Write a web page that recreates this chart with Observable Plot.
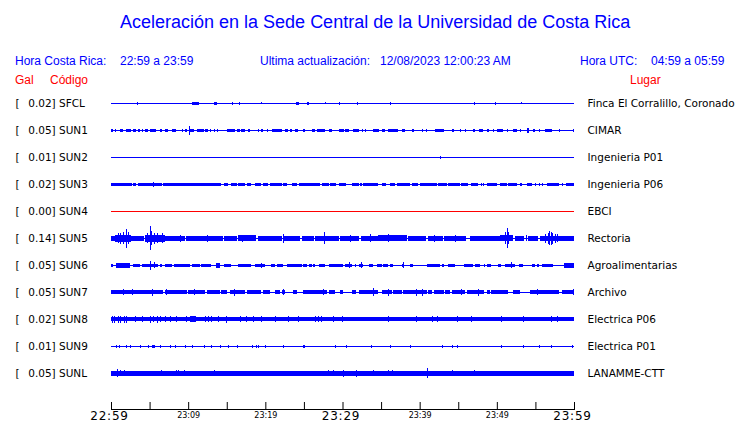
<!DOCTYPE html>
<html><head><meta charset="utf-8">
<script src="https://cdn.jsdelivr.net/npm/d3@7"></script>
<script src="https://cdn.jsdelivr.net/npm/@observablehq/plot@0.6"></script>
<style>
body{margin:0;background:#fff;}
#wrap{position:relative;width:740px;height:423px;overflow:hidden;font-family:"Liberation Sans",Arial,sans-serif;background:#fff;}
.h{position:absolute;white-space:pre;font-size:12px;line-height:12px;color:#0000ff;}
.r{color:#ff0000;}
#title{position:absolute;left:120px;top:12.8px;font-size:18px;line-height:18px;color:#0000ff;white-space:pre;}
#chart{position:absolute;left:0;top:88px;}
</style></head><body>
<div id="wrap">
<div id="title">Aceleración en la Sede Central de la Universidad de Costa Rica</div>
<div class="h" style="left:15px;top:55.3px">Hora Costa Rica:</div>
<div class="h" style="left:120px;top:55.3px">22:59 a 23:59</div>
<div class="h" style="left:260px;top:55.3px">Ultima actualización:</div>
<div class="h" style="left:380px;top:55.3px">12/08/2023 12:00:23 AM</div>
<div class="h" style="left:580px;top:55.3px">Hora UTC:</div>
<div class="h" style="left:651px;top:55.3px">04:59 a 05:59</div>
<div class="h r" style="left:15px;top:74.1px">Gal</div>
<div class="h r" style="left:50px;top:74.1px">Código</div>
<div class="h r" style="left:630px;top:74.1px">Lugar</div>
<div id="chart"></div>
</div>
<script>
// ---- data ----
const codes  = ["SFCL","SUN1","SUN2","SUN3","SUN4","SUN5","SUN6","SUN7","SUN8","SUN9","SUNL"];
const gal    = ["0.02","0.05","0.01","0.02","0.00","0.14","0.05","0.05","0.02","0.01","0.05"];
const places = ["Finca El Corralillo, Coronado","CIMAR","Ingenieria P01","Ingenieria P06","EBCI","Rectoria","Agroalimentarias","Archivo","Electrica P06","Electrica P01","LANAMME-CTT"];
const lineColors = ["#0000ff","#0000ff","#0000ff","#0000ff","#ff0000","#0000ff","#0000ff","#0000ff","#0000ff","#0000ff","#0000ff"];
const windowMinutes = [0, 60];            // 22:59 -> 23:59
const startTime = new Date(2023, 7, 11, 22, 59);
const tickMinutes = [0,5,10,15,20,25,30,35,40,45,50,55,60];
const majorLabelTicks = [0,30,60];
const minorLabelTicks = [10,20,40,50];
// default half-amplitude of noise blocks per station
const blockHalf = [1.7,1.5,1.5,1.7,1.5,2.6,1.8,2,2.1,1.5,2.2];

// blocks: [startMinute, endMinute, halfAmplitude?]   spikes: [minute, halfAmplitude]
const sfclBlocks = [[10.5,11.4],[13.3,13.7,1.5],[24.0,24.4,1.5],[25.4,25.7,1.5]];
const sfclSpikes = [[3.4,1.5],[15.7,1.5],[16.6,1.5],[19.5,1],[27.7,1],[29.6,1.5],[31.9,1.2],[36.1,1.2],[47.0,1.8],[49.8,1.2],[53.1,1]];

const sun1Blocks = [[0,0.2],[0.5,0.7],[1.2,1.6],[1.9,2.6],[2.9,3.2],[3.5,3.8],[4.0,4.2],[4.4,4.8],[5.1,5.8],[6.3,6.6],[7.0,7.4],[7.9,8.1],[8.2,8.4],[9.2,9.3],[9.6,9.8],[10.2,10.8],[11.1,12.0],[12.2,12.6],[12.8,13.0],[13.3,13.5],[13.7,13.9],[15.0,16.1],[16.3,16.7],[16.9,17.4],[17.8,18.0],[19.0,19.2],[19.5,19.7],[20.2,20.4],[20.8,22.1],[22.5,23.0],[23.2,23.4],[23.8,24.2],[24.9,25.1],[26.0,26.4],[26.7,27.7],[28.2,28.7],[29.5,30.2],[30.3,30.9],[31.4,32.1],[32.9,33.0],[33.9,34.7],[35.1,35.5],[35.9,37.2],[37.7,38.1],[39.0,39.3],[40.3,40.4],[42.0,43.1],[44.2,44.5],[45.2,45.4],[46.9,47.2],[47.7,48.2],[48.7,49.0],[50.0,50.8],[51.3,51.5],[52.1,52.6],[53.0,53.1],[53.9,54.2,2.3],[54.7,55.0],[55.4,55.6],[56.2,57.1],[58.0,58.2],[59.9,60]];
const sun1Spikes = [[10.1,4.7],[32.5,1.8],[40.8,1.8],[45.9,1.8],[49.5,1.8]];

const sun2Blocks = [];
const sun2Spikes = [[42.6,1.5]];

const sun3Blocks = [[0,2.7],[2.9,3.3],[3.5,6.6],[6.8,14.3],[14.6,15.2],[15.6,16.3],[16.5,17.4],[17.6,18.2],[18.6,19.5],[19.7,20.4],[20.6,22.1],[22.3,22.8],[23.4,24.1],[24.3,27.1],[27.3,28.2],[28.4,29.2],[29.5,30.5],[31.2,32.1],[32.3,32.5],[32.7,34.6],[35.1,35.7],[36.2,36.8],[37.0,38.8],[39.0,39.8],[40.0,42.2],[42.4,43.5],[43.7,45.2],[45.4,46.3],[46.7,47.5],[48.7,50.0],[50.4,51.3],[51.5,52.6],[53.0,53.2],[53.9,54.5],[56.5,58.0],[58.4,58.6],[59.0,60]];
const sun3Spikes = [[5.4,2.8],[47.9,1.5],[48.2,1.5],[55.0,1.5],[55.4,1.5],[55.8,1.5]];

const sun4Blocks = [];
const sun4Spikes = [];

const sun5Blocks = [[0,0.5,2.3],[0.5,2.6,3.6],[2.6,4.3,2.3],[4.4,7.0,3.6],[7.0,9.6],[9.7,14.5],[14.7,16.3],[16.4,18.8,3],[19.0,22.2,2.2],[22.4,24.5],[24.7,26.3],[26.4,29.6],[29.7,32.2],[32.4,34.6],[34.6,38.3,3],[38.5,40.8,2.2],[41.1,43.0],[43.2,46.0],[46.5,50.4],[50.4,52.1,3],[52.3,53.5,2.2],[54.0,55.3,2.2],[55.6,60]];
const sun5Spikes = [[0.9,5],[1.2,5.5],[1.5,6],[1.9,9.5],[2.2,6],[4.7,5],[5.0,12],[5.2,7],[5.6,5.5],[6.0,5],[6.6,5],[9.0,3.5],[12.5,3.5],[17.0,3.5],[22.3,4.5],[27.6,6],[31.0,3.5],[33.5,4],[35.9,4],[41.8,3.5],[44.6,3.5],[51.0,6],[51.3,10],[51.5,6],[53.8,3],[56.3,4.5],[56.6,5.5],[56.8,7],[57.0,6.5],[57.2,5.5],[57.5,4.5],[57.8,4]];

const sun6Blocks = [[0,0.3],[0.7,2.5,2.3],[2.8,3.8],[4.0,6.1],[6.4,6.6],[7.0,7.9],[8.1,10.2],[10.5,11.5],[11.7,13.0],[13.6,14.1,2.5],[14.6,15.6],[16.4,18.2],[18.7,20.0],[20.7,21.3],[21.5,22.3],[22.8,24.7],[24.9,25.4],[25.6,26.0],[26.2,26.4],[26.9,27.7],[28.3,29.9],[29.7,30.0],[30.3,31.2],[31.6,31.8],[32.1,32.7],[33.4,34.0],[34.5,35.1],[35.3,35.9],[36.2,36.6],[37.7,37.9],[38.8,39.2],[41.0,42.6],[42.9,43.1],[43.7,44.6],[45.7,46.9],[47.2,47.8],[48.3,48.5],[48.7,49.3],[50.2,50.6],[51.1,52.4],[52.9,53.4],[54.6,54.9],[55.2,55.4],[55.8,57.3],[58.7,60,2.3]];
const sun6Spikes = [[5.1,4.5],[5.6,3],[19.5,2.8],[30.8,3],[32.4,3],[37.8,3],[51.8,3],[59.5,2.5]];

const sun7Blocks = [[0,6.8],[7.0,9.8],[10.0,12.2],[12.4,14.1],[14.3,15.0],[15.4,17.4],[17.6,19.5],[19.7,20.6],[21.3,21.9],[22.1,22.6],[23.6,24.1],[24.9,28.0],[28.2,29.0],[29.7,30.0],[31.2,31.8],[32.1,34.6],[35.1,36.4],[36.6,37.7],[37.9,40.9],[41.1,41.6],[41.8,43.1],[43.3,43.9],[44.2,45.9],[46.1,48.3],[48.7,49.1],[49.3,51.5],[52.1,53.0],[54.3,58.0],[58.4,60]];
const sun7Spikes = [[1.5,3],[2.7,3],[5.3,3.5],[7.1,3],[10.8,3],[16.0,3.5],[22.3,3],[27.5,3],[33.9,4],[35.9,3.5],[39.5,3.5],[40.3,3.5],[45.3,3],[47.6,3.5],[55.2,3],[59.9,3]];

const sun8Blocks = [[0,60],[10.2,11.0,3]];
const sun8Spikes = [[0.1,3.5],[0.4,3.5],[0.9,3.5],[1.2,3.5],[1.7,3.5],[2.0,3.5],[3.1,3],[4.0,3],[5.1,3.5],[5.5,3],[6.0,3.5],[6.3,3],[7.0,3],[7.7,3],[8.4,3],[9.7,3],[12.2,3],[12.6,3],[13.0,3],[13.9,3],[14.9,3.5],[16.7,3],[17.5,3],[18.4,3],[19.5,3],[21.2,3],[23.0,3],[24.2,3],[26.4,3],[26.8,3],[27.2,3],[28.8,3],[29.9,3],[35.9,3],[39.5,3],[41.6,3],[42.2,3],[44.8,3],[46.7,3],[50.6,3],[53.4,3],[57.0,3],[57.8,3]];

const sun9Blocks = [[5.3,5.7],[24.9,25.2]];
const sun9Spikes = [[0.7,1.5],[1.0,1.8],[1.9,1.8],[2.5,1.5],[3.7,1.5],[4.8,1.5],[6.4,1.8],[7.6,1.5],[8.3,1.5],[9.6,1.5],[10.5,1.8],[12.1,1.5],[13.0,1.8],[14.1,1.5],[15.1,1.5],[16.3,1.5],[18.3,1.5],[18.8,1.8],[19.1,1.5],[20.0,1.5],[22.3,1.5],[29.0,1.5],[30.5,1.5],[33.7,1.5],[36.2,1.5],[38.8,1.5],[42.9,1.8],[44.2,1.5],[44.9,1.5],[50.6,1.5],[53.4,1.5],[55.4,1.5],[57.0,1.5],[59.8,1.5]];

const sunlBlocks = [[0,60]];
const sunlSpikes = [[0.8,4],[1.2,3],[1.7,3],[6.5,3],[8.4,3],[8.7,3],[9.5,3],[13.3,3],[28.1,3],[28.8,3],[30.1,3.5],[31.7,3.5],[33.9,3],[35.9,3],[36.4,3],[40.9,5],[44.2,3],[47.0,3]];

const stationBlocks = [sfclBlocks,sun1Blocks,sun2Blocks,sun3Blocks,sun4Blocks,sun5Blocks,sun6Blocks,sun7Blocks,sun8Blocks,sun9Blocks,sunlBlocks];
const stationSpikes = [sfclSpikes,sun1Spikes,sun2Spikes,sun3Spikes,sun4Spikes,sun5Spikes,sun6Spikes,sun7Spikes,sun8Spikes,sun9Spikes,sunlSpikes];

// ---- tables ----
const rowPx = 27; // amplitude units -> row units
const rows = codes.map((c, i) => ({i, code: c, gal: gal[i], place: places[i], color: lineColors[i], x1: windowMinutes[0], x2: windowMinutes[1]}));
const blocks = stationBlocks.flatMap((bl, i) => bl.map(([a, b, h]) => {
  const hh = (h ?? blockHalf[i]) / rowPx;
  return {x1: a, x2: b, y1: i - hh, y2: i + hh};
}));
const spikes = stationSpikes.flatMap((sp, i) => sp.map(([m, h]) => ({x: m, y1: i - h / rowPx, y2: i + h / rowPx})));
const fmt = m => d3.timeFormat("%H:%M")(d3.timeMinute.offset(startTime, m));

const blue = "#0000ff";
const chart = Plot.plot({
  width: 740, height: 335,
  marginLeft: 111, marginRight: 166, marginTop: 0, marginBottom: 14,
  x: {domain: windowMinutes},
  y: {domain: [0, 10], range: [15.3, 285.3], axis: null},
  style: {background: "white", fontFamily: "DejaVu Sans", color: "black"},
  marks: [
    Plot.ruleY(rows.filter(d => d.color === blue), {y: "i", x1: "x1", x2: "x2", stroke: blue, strokeWidth: 1, shapeRendering: "crispEdges"}),
    Plot.ruleY(rows.filter(d => d.color !== blue), {y: "i", x1: "x1", x2: "x2", stroke: "#ff0000", strokeWidth: 1, shapeRendering: "crispEdges"}),
    Plot.rect(blocks, {x1: "x1", x2: "x2", y1: "y1", y2: "y2", fill: blue, shapeRendering: "crispEdges"}),
    Plot.ruleX(spikes, {x: "x", y1: "y1", y2: "y2", stroke: blue, strokeWidth: 1, shapeRendering: "crispEdges"}),
    Plot.text(rows, {y: "i", text: () => "[", frameAnchor: "left", dx: -96, textAnchor: "start", fontSize: 10.5, fill: "black"}),
    Plot.text(rows, {y: "i", text: d => `${d.gal}] ${d.code}`, frameAnchor: "left", dx: -83.3, textAnchor: "start", fontSize: 10.5, fill: "black"}),
    Plot.text(rows, {y: "i", text: "place", frameAnchor: "right", dx: 13, textAnchor: "start", fontSize: 10.5, fill: "black"}),
    Plot.frame({anchor: "bottom", stroke: "black"}),
    Plot.axisX({ticks: tickMinutes, tickSize: -7, tickFormat: () => "", stroke: "black"}),
    Plot.axisX({ticks: majorLabelTicks, tickSize: 0, tickPadding: 2.2, tickFormat: fmt, fontSize: 12, fill: "black"}),
    Plot.axisX({ticks: minorLabelTicks, tickSize: 0, tickPadding: 3.3, tickFormat: fmt, fontSize: 8, fill: "black"})
  ]
});
document.getElementById("chart").appendChild(chart);
// slightly spaced large time labels, as in the original
const labelGroups = chart.querySelectorAll('g[aria-label="x-axis tick label"]');
labelGroups.forEach(g => {
  if (g.getAttribute("font-size") === "12") {
    g.querySelectorAll("text").forEach(t => { t.style.letterSpacing = "0.8px"; t.setAttribute("dx", "-2"); });
  }
});
</script>
</body></html>
